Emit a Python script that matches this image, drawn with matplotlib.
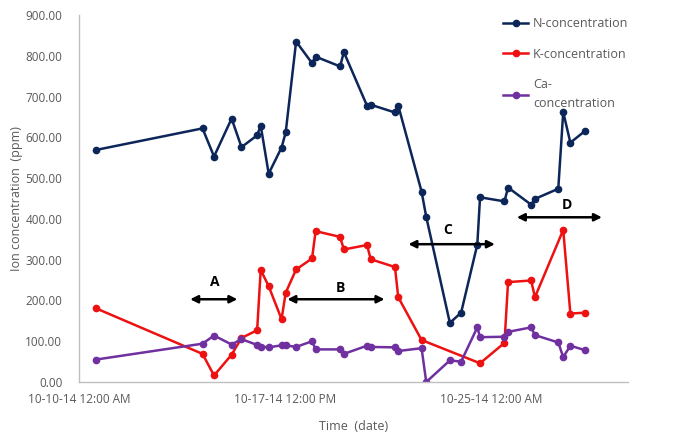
import matplotlib.pyplot as plt

# días desde 10-10-14 12:00 AM
dias_n = [0.61, 4.50, 4.92, 5.56, 5.92, 6.49, 6.62, 6.91, 7.38, 7.53, 7.91, 8.49, 8.62,
          9.51, 9.65, 10.49, 10.63, 11.51, 11.63, 12.48, 12.65, 13.51, 13.92, 14.51,
          14.61, 15.50, 15.63, 16.47, 16.61, 17.46, 17.64, 17.90, 18.44]
conc_n = [569, 622, 553, 646, 576, 605, 629, 511, 575, 612, 835, 782, 798,
          774, 809, 678, 680, 661, 678, 467, 405, 145, 170, 337,
          453, 443, 477, 435, 449, 474, 662, 587, 616]

dias_k = [0.61, 4.50, 4.92, 5.56, 5.92, 6.49, 6.62, 6.91, 7.38, 7.53, 7.91, 8.49, 8.62,
          9.51, 9.65, 10.49, 10.63, 11.51, 11.63, 12.48, 14.61, 15.50, 15.63, 16.47,
          16.61, 17.64, 17.90, 18.44]
conc_k = [181, 69, 16, 67, 108, 127, 275, 235, 154, 219, 276, 303, 370,
          356, 325, 336, 301, 282, 208, 103, 46, 96, 245, 249,
          208, 373, 168, 170]

dias_ca = dias_n
conc_ca = [55, 94, 114, 92, 105, 91, 87, 85, 90, 90, 86, 100, 80,
           80, 69, 89, 86, 85, 76, 83, 0, 53, 50, 134,
           110, 111, 123, 134, 115, 97, 61, 89, 78]

ticks_x = [0, 7.5, 15]
etiquetas_x = ["10-10-14 12:00 AM", "10-17-14 12:00 PM", "10-25-14 12:00 AM"]
ticks_y = [0, 100, 200, 300, 400, 500, 600, 700, 800, 900]

# zonas A-D: (inicio, fin, altura flecha, x letra, y letra)
zonas = ["A", "B", "C", "D"]
zona_ini = [4.05, 7.59, 12.0, 15.95]
zona_fin = [5.77, 11.13, 15.15, 19.05]
zona_y = [203, 203, 338, 404]
letra_x = [4.93, 9.52, 13.43, 17.77]
letra_y = [245, 230, 372, 434]

plt.rcParams['font.family'] = ['Open Sans', 'DejaVu Sans']
gris = "#595959"

fig = plt.figure(figsize=(6.88, 4.42), dpi=100)
ax = fig.add_axes([0.1148, 0.1357, 0.798, 0.8303])

ax.plot(dias_n, conc_n, color="#0C2659", marker="o", markersize=4.5, lw=1.8,
        label="N-concentration")
ax.plot(dias_k, conc_k, color="#EE1111", marker="o", markersize=4.5, lw=1.8,
        label="K-concentration")
ax.plot(dias_ca, conc_ca, color="#7030A0", marker="o", markersize=4.5, lw=1.8,
        label="Ca-\nconcentration")

# flechas de las zonas
for i in range(len(zonas)):
    ax.annotate("", xy=(zona_fin[i], zona_y[i]), xytext=(zona_ini[i], zona_y[i]),
                arrowprops=dict(arrowstyle="<|-|>", color="black", lw=1.8,
                                mutation_scale=11, shrinkA=0, shrinkB=0))
    ax.text(letra_x[i], letra_y[i], zonas[i], ha="center", va="center",
            fontsize=10, fontweight="bold", color="black")

ax.set_xlim(0, 20.0)
ax.set_ylim(0, 900)
ax.set_xticks(ticks_x)
ax.set_xticklabels(etiquetas_x)
ax.set_yticks(ticks_y)
ax.set_yticklabels(["%.2f" % v for v in ticks_y])
ax.tick_params(axis="x", length=0, labelsize=8.5, colors=gris, pad=8)
ax.tick_params(axis="y", length=0, labelsize=8.5, colors=gris, pad=12)

for lado in ["top", "right"]:
    ax.spines[lado].set_visible(False)
for lado in ["left", "bottom"]:
    ax.spines[lado].set_color("#BFBFBF")
    ax.spines[lado].set_linewidth(1)

ax.set_xlabel("Time  (date)", fontsize=9, color=gris, labelpad=10)
ax.set_ylabel("Ion concentration  (ppm)", fontsize=9, color=gris, labelpad=1.5)

ley = ax.legend(loc="upper left", bbox_to_anchor=(0.752, 1.025), frameon=False,
                fontsize=9, handlelength=2.0, labelspacing=1.4, handletextpad=0.4)
for t in ley.get_texts():
    t.set_color(gris)
    t.set_linespacing(1.6)

fig.savefig("out.png", dpi=100)
